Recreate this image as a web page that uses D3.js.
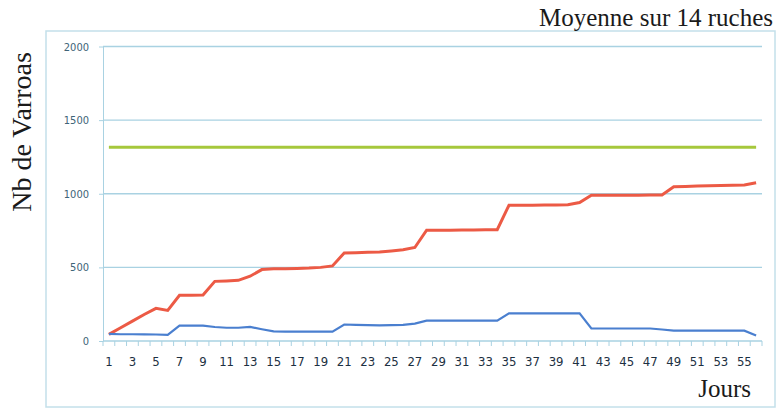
<!DOCTYPE html>
<html>
<head>
<meta charset="utf-8">
<script src="https://cdnjs.cloudflare.com/ajax/libs/d3/7.8.5/d3.min.js"></script>
<style>
  body { margin: 0; background: #fff; }
  .grid line { stroke: #a9d2e2; stroke-width: 1.3; }
  .axis path, .axis line { stroke: #a9d2e2; }
  .ylab text { fill: #3e6478; font-family: "Liberation Sans Narrow", "DejaVu Sans Condensed", "Liberation Sans", sans-serif; font-size: 11px; }
  .xlab text { fill: #1c3042; font-family: "Liberation Sans Narrow", "DejaVu Sans Condensed", "Liberation Sans", sans-serif; font-size: 13px; }
  .serif { font-family: "Liberation Serif", "DejaVu Serif", serif; fill: #1a1a1a; }
</style>
</head>
<body>
<div id="chart"></div>
<script>
// days 1..56
var days = d3.range(1, 57);
var dayLabels = days.filter(function(d){ return d % 2 === 1; });
var yTicks = [0, 500, 1000, 1500, 2000];

// cumulated varroas (red)
var cumul = [45, 90, 135, 180, 222, 208, 310, 310, 312, 405,
             408, 412, 440, 485, 490, 490, 492, 495, 500, 510,
             598, 600, 602, 605, 612, 620, 635, 752, 752, 752,
             753, 754, 755, 756, 922, 922, 922, 923, 924, 925,
             940, 990, 990, 990, 990, 990, 991, 992, 1048, 1050,
             1052, 1054, 1056, 1058, 1060, 1075];

// daily fall (blue)
var chute = [48, 46, 46, 45, 44, 42, 105, 105, 105, 95,
             90, 90, 96, 80, 65, 63, 63, 63, 63, 63,
             112, 110, 108, 106, 108, 110, 118, 138, 138, 138,
             138, 138, 138, 138, 188, 188, 188, 188, 188, 188,
             188, 85, 85, 85, 85, 85, 85, 78, 70, 70,
             70, 70, 70, 70, 70, 38];

// threshold (green)
var seuil = 1315;

var width = 778, height = 411;
var svg = d3.select("#chart").append("svg")
    .attr("width", width)
    .attr("height", height);

// outer frame
svg.append("rect")
    .attr("x", 46).attr("y", 31)
    .attr("width", 729).attr("height", 376)
    .attr("fill", "none")
    .attr("stroke", "#c3e0ea")
    .attr("stroke-width", 1.5);

var x = d3.scaleBand().domain(days).range([103, 762]),
    y = d3.scaleLinear().domain([0, 2000]).range([341, 46.5]);
var cx = function(d){ return x(d) + x.bandwidth() / 2; };

// gridlines
svg.append("g")
    .attr("class", "grid")
  .selectAll("line")
  .data(yTicks.filter(function(t){ return t > 0; }))
  .enter().append("line")
    .attr("x1", 103).attr("x2", 762)
    .attr("y1", function(d){ return y(d); })
    .attr("y2", function(d){ return y(d); });

// y axis
svg.append("g")
    .attr("class", "axis ylab")
    .attr("transform", "translate(103,0)")
    .call(d3.axisLeft(y).tickValues(yTicks).tickFormat(d3.format("d"))
          .tickSize(4).tickSizeOuter(0).tickPadding(10));

// x axis line + tick marks between categories
var xa = svg.append("g").attr("class", "axis");
xa.append("line")
    .attr("x1", 103).attr("x2", 762)
    .attr("y1", y(0)).attr("y2", y(0))
    .attr("stroke-width", 1.3);
xa.selectAll(".tk")
  .data(days.concat([null]))
  .enter().append("line")
    .attr("class", "tk")
    .attr("x1", function(d){ return d === null ? x.range()[1] : x(d); })
    .attr("x2", function(d){ return d === null ? x.range()[1] : x(d); })
    .attr("y1", y(0)).attr("y2", y(0) + 5);

// x labels
svg.append("g")
    .attr("class", "axis xlab")
    .attr("transform", "translate(0," + (y(0) + 13) + ")")
    .call(d3.axisBottom(x).tickValues(dayLabels).tickSize(0))
    .call(function(g){ g.select(".domain").remove(); });

// lines
var line = d3.line()
    .x(function(d, i){ return cx(days[i]); })
    .y(function(d){ return y(d); });

svg.append("path")
    .datum(days.map(function(){ return seuil; }))
    .attr("fill", "none")
    .attr("stroke", "#a6c83c")
    .attr("stroke-width", 3)
    .attr("d", line);

svg.append("path")
    .datum(cumul)
    .attr("fill", "none")
    .attr("stroke", "#ec5a45")
    .attr("stroke-width", 3)
    .attr("d", line);

svg.append("path")
    .datum(chute)
    .attr("fill", "none")
    .attr("stroke", "#4a7fcf")
    .attr("stroke-width", 2.2)
    .attr("d", line);

// texts
svg.append("text")
    .attr("class", "serif")
    .attr("x", 773).attr("y", 26)
    .attr("text-anchor", "end")
    .attr("font-size", 25)
    .text("Moyenne sur 14 ruches");

svg.append("text")
    .attr("class", "serif")
    .attr("transform", "translate(31,132) rotate(-90)")
    .attr("text-anchor", "middle")
    .attr("font-size", 28)
    .text("Nb de Varroas");

svg.append("text")
    .attr("class", "serif")
    .attr("x", 751).attr("y", 397)
    .attr("text-anchor", "end")
    .attr("font-size", 25)
    .text("Jours");
</script>
</body>
</html>
